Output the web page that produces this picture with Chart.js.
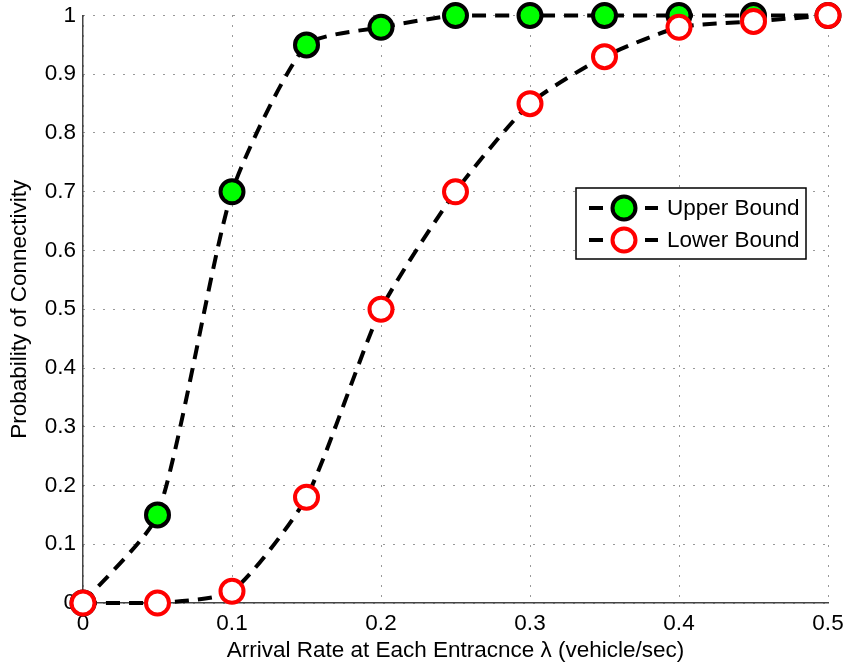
<!DOCTYPE html>
<html>
<head>
<meta charset="utf-8">
<script src="https://cdn.jsdelivr.net/npm/chart.js@4"></script>
<style>
  html, body { margin: 0; padding: 0; background: #fff; }
  #wrap { width: 845px; height: 667px; }
</style>
</head>
<body>
<div id="wrap"><canvas id="c" width="845" height="667"></canvas></div>
<script>
// values
var rates = [0, 0.05, 0.1, 0.15, 0.2, 0.25, 0.3, 0.35, 0.4, 0.45, 0.5];
var upperBound = [0, 0.15, 0.7, 0.95, 0.98, 1, 1, 1, 1, 1, 1];
var lowerBound = [0, 0, 0.02, 0.18, 0.5, 0.7, 0.85, 0.93, 0.98, 0.99, 1];
var seriesNames = ['Upper Bound', 'Lower Bound'];
var xTicks = [0, 0.1, 0.2, 0.3, 0.4, 0.5];
var yTicks = [0, 0.1, 0.2, 0.3, 0.4, 0.5, 0.6, 0.7, 0.8, 0.9, 1];

var FONT = 'Liberation Sans, Arial, Helvetica, sans-serif';
var FSIZE = 22.5;

function pts(ys) {
    return rates.map(function(x, i) { return {x: x, y: ys[i]}; });
}

// legend drawn inside the axes, matlab style
var boxLegend = {
    id: 'boxLegend',
    afterDraw: function(chart) {
        var ctx = chart.ctx;
        var x0 = 576, y0 = 188, w = 230, h = 71;
        ctx.save();
        ctx.fillStyle = '#fff';
        ctx.fillRect(x0, y0, w, h);
        ctx.strokeStyle = '#000';
        ctx.lineWidth = 1.5;
        ctx.strokeRect(x0, y0, w, h);
        chart.data.datasets.forEach(function(ds, i) {
            var cy = y0 + 20 + i * 32;
            ctx.strokeStyle = '#000';
            ctx.lineWidth = 4;
            ctx.beginPath();
            ctx.moveTo(589, cy); ctx.lineTo(603, cy);
            ctx.moveTo(645, cy); ctx.lineTo(658, cy);
            ctx.stroke();
            ctx.beginPath();
            ctx.arc(624, cy, 11.5, 0, Math.PI * 2);
            ctx.fillStyle = ds.pointBackgroundColor;
            ctx.fill();
            ctx.lineWidth = 4;
            ctx.strokeStyle = ds.pointBorderColor;
            ctx.stroke();
            ctx.fillStyle = '#000';
            ctx.font = FSIZE + 'px ' + FONT;
            ctx.textBaseline = 'middle';
            ctx.textAlign = 'left';
            ctx.fillText(ds.label, 667, cy + 1);
        });
        ctx.restore();
    }
};

new Chart(document.getElementById('c'), {
    type: 'line',
    data: {
        datasets: [
            {
                label: seriesNames[0],
                data: pts(upperBound),
                order: 1,
                borderColor: '#000',
                borderWidth: 4,
                borderDash: [14, 9],
                tension: 0.2,
                pointRadius: 11.5,
                pointBorderWidth: 4,
                pointBackgroundColor: '#00ff00',
                pointBorderColor: '#000',
                clip: false
            },
            {
                label: seriesNames[1],
                data: pts(lowerBound),
                order: 0,
                borderColor: '#000',
                borderWidth: 4,
                borderDash: [14, 9],
                tension: 0.2,
                pointRadius: 11.5,
                pointBorderWidth: 4,
                pointBackgroundColor: '#fff',
                pointBorderColor: '#ff0000',
                clip: false
            }
        ]
    },
    options: {
        responsive: false,
        animation: false,
        layout: { padding: { top: 15, right: 17, left: 0, bottom: 0 } },
        plugins: { legend: { display: false }, tooltip: { enabled: false } },
        scales: {
            x: {
                type: 'linear',
                min: 0, max: 0.5,
                afterBuildTicks: function(s) { s.ticks = xTicks.map(function(v) { return {value: v}; }); },
                afterFit: function(s) { s.height = 64; s.paddingRight = 0; },
                ticks: {
                    color: '#000', padding: 7, maxRotation: 0,
                    font: { family: FONT, size: FSIZE },
                    callback: function(v) { return String(v); }
                },
                grid: { color: '#333', lineWidth: 1, drawTicks: false },
                border: { display: true, color: '#444', width: 1.5, dash: [1, 9] },
                title: {
                    display: true, text: 'Arrival Rate at Each Entracnce λ (vehicle/sec)',
                    color: '#000', font: { family: FONT, size: FSIZE }, padding: { bottom: 3, top: 0 }
                }
            },
            y: {
                min: 0, max: 1,
                afterBuildTicks: function(s) { s.ticks = yTicks.map(function(v) { return {value: v}; }); },
                afterFit: function(s) { s.width = 83; s.paddingTop = 0; },
                ticks: {
                    color: '#000', padding: 7,
                    font: { family: FONT, size: FSIZE },
                    callback: function(v) { return String(v); }
                },
                grid: { color: '#333', lineWidth: 1, drawTicks: false },
                border: { display: true, color: '#444', width: 1.5, dash: [1, 9] },
                title: {
                    display: true, text: 'Probability of Connectivity',
                    color: '#000', font: { family: FONT, size: FSIZE }, padding: { top: 6, bottom: 0 }
                }
            }
        }
    },
    plugins: [boxLegend]
});
</script>
</body>
</html>
